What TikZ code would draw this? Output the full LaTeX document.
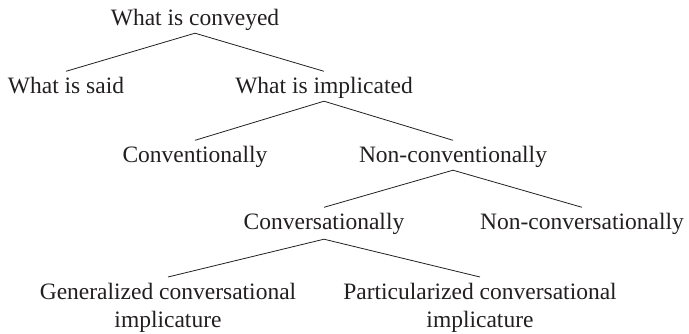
\documentclass[tikz,border=0pt]{standalone}
\usepackage{fontspec}
\setmainfont{Liberation Serif}
\definecolor{ink}{HTML}{231F20}
\begin{document}
\begin{tikzpicture}[x=1pt, y=-1pt,
  lbl/.style={anchor=base, inner sep=0pt, text height=16pt, text depth=5pt,
              font=\fontsize{23.5}{28}\selectfont, text=ink},
  leaf/.style={anchor=north, inner sep=0pt, align=center,
               font=\fontsize{23.5}{28}\selectfont, text=ink},
  branch/.style={draw=ink, line width=0.8pt},
  up/.style={yshift=6.5pt},
  down/.style={yshift=-2pt}]
\useasboundingbox (0,0) rectangle (689,334);

% labels
\node[lbl] (conveyed)   at (195,26)  {What is conveyed};
\node[lbl] (said)       at (66,94)   {What is said};
\node[lbl] (implicated) at (324,94)  {What is implicated};
\node[lbl] (conv)       at (195,163) {Conventionally};
\node[lbl] (nonconv)    at (453,163) {Non-conventionally};
\node[lbl] (convers)    at (324,230) {Conversationally};
\node[lbl] (nonconvers) at (582,230) {Non-conversationally};
\node[leaf] (general)   at (168,282.5) {Generalized conversational\\implicature};
\node[leaf] (partic)    at (480,282.5) {Particularized conversational\\implicature};

% branches
\draw[branch] ([down]conveyed.south) -- ([up]said.north);
\draw[branch] ([down]conveyed.south) -- ([up]implicated.north);
\draw[branch] ([down]implicated.south) -- ([up]conv.north);
\draw[branch] ([down]implicated.south) -- ([up]nonconv.north);
\draw[branch] ([down]nonconv.south) -- ([up]convers.north);
\draw[branch] ([down]nonconv.south) -- ([up]nonconvers.north);
\draw[branch] ([yshift=-4pt]convers.south) -- ([yshift=5.5pt]general.north);
\draw[branch] ([yshift=-4pt]convers.south) -- ([yshift=5.5pt]partic.north);
\end{tikzpicture}
\end{document}
